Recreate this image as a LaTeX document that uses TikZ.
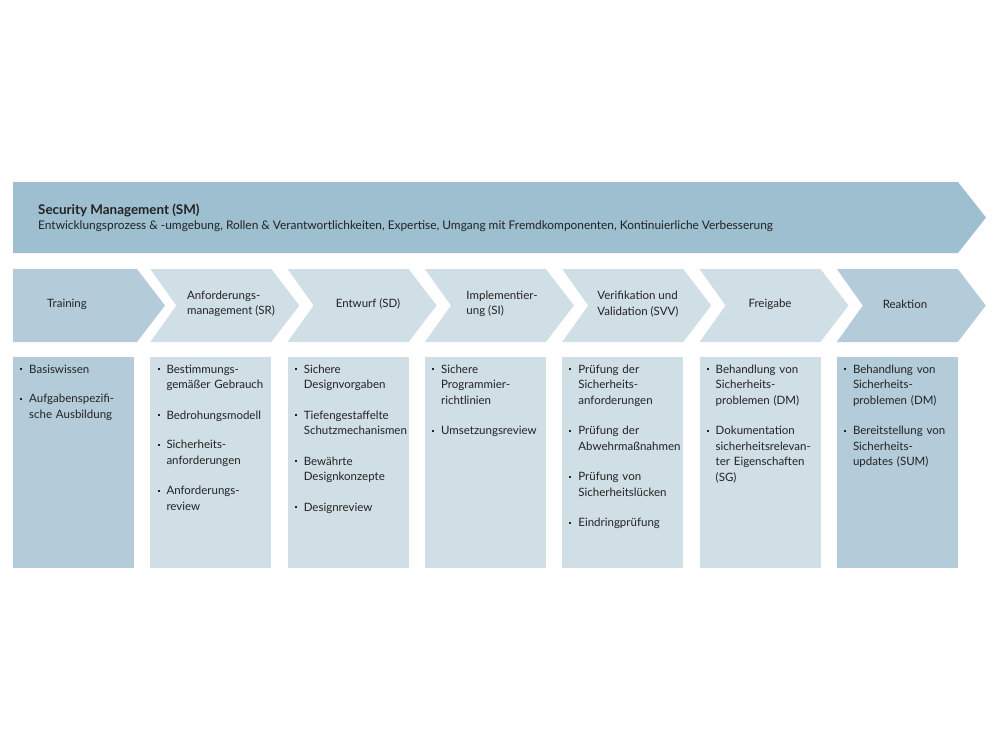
\documentclass[tikz,border=0pt]{standalone}
\usepackage{fontspec}
\setmainfont{Lato}
\definecolor{banner}{HTML}{9DBFD0}
\definecolor{darkblue}{HTML}{B4CCD9}
\definecolor{lightblue}{HTML}{D0DEE6}
\definecolor{ink}{HTML}{222222}
\newcommand{\bul}[1]{\makebox[9pt][l]{\raisebox{2.6pt}{\rule{2pt}{2pt}}}\parbox[t]{110pt}{\raggedright\strut #1\strut}}
\newcommand{\itemgap}{\par\vspace{14pt}}
\tikzset{
  bodytext/.style={font=\fontsize{11.5}{15.5}\selectfont, text=ink, inner sep=0pt},
  coltext/.style={bodytext, anchor=north west, text width=120pt, align=left},
  chevtext/.style={bodytext, anchor=center, align=left},
}
\begin{document}
\begin{tikzpicture}[x=1pt,y=-1pt]
\useasboundingbox (0,0) rectangle (1000,750);
% banner
\fill[banner] (13,182) -- (958,182) -- (986,217.5) -- (958,253) -- (13,253) -- cycle;
\node[text=ink, inner sep=0pt, anchor=west, align=left, font=\fontsize{11.9}{15.5}\selectfont] (sm) at (38,218)
  {{\fontsize{13.4}{15.5}\selectfont\textbf{Security Management (SM)}}\\Entwicklungsprozess \& -umgebung, Rollen \& Verantwortlichkeiten, Expertise, Umgang mit Fremdkomponenten, Kontinuierliche Verbesserung};
% chevrons
\fill[darkblue] (13,269) -- (137,269) -- (165,305.5) -- (137,342) -- (13,342) -- cycle;
\foreach \i in {1,...,6}{
  \pgfmathsetmacro{\L}{13+137.3*\i}
  \ifnum\i=6 \def\cc{darkblue}\else\def\cc{lightblue}\fi
  \fill[\cc] (\L,269) -- (\L+121,269) -- (\L+149,305.5) -- (\L+121,342) -- (\L,342) -- (\L+26,305.5) -- cycle;
}
% columns
\foreach \i in {0,...,6}{
  \pgfmathsetmacro{\L}{13+137.3*\i}
  \ifnum\i=0 \def\cc{darkblue}\else\ifnum\i=6 \def\cc{darkblue}\else\def\cc{lightblue}\fi\fi
  \fill[\cc] (\L,357) rectangle (\L+121,568);
}
% chevron labels
\node[chevtext] (c0) at (67,304) {Training};
\node[chevtext] (c1) at (231,304) {Anforderungs-\\management (SR)};
\node[chevtext] (c2) at (368,304) {Entwurf (SD)};
\node[chevtext] (c3) at (502,304) {Implementier-\\ung (SI)};
\node[chevtext] (c4) at (638,304) {Verifikation und\\Validation (SVV)};
\node[chevtext] (c5) at (770,304) {Freigabe};
\node[chevtext] (c6) at (905,304) {Reaktion};
% column texts
\node[coltext] (t0) at (20,362) {\bul{Basiswissen}\itemgap\bul{Aufgabenspezifi-\\sche Ausbildung}};
\node[coltext] (t1) at (157.3,362) {\bul{Bestimmungs-\\gemäßer Gebrauch}\itemgap\bul{Bedrohungsmodell}\itemgap\bul{Sicherheits-\\anforderungen}\itemgap\bul{Anforderungs-\\review}};
\node[coltext] (t2) at (294.6,362) {\bul{Sichere\\Designvorgaben}\itemgap\bul{Tiefengestaffelte\\Schutzmechanismen}\itemgap\bul{Bewährte\\Designkonzepte}\itemgap\bul{Designreview}};
\node[coltext] (t3) at (431.9,362) {\bul{Sichere\\Programmier-\\richtlinien}\itemgap\bul{Umsetzungsreview}};
\node[coltext] (t4) at (569.2,362) {\bul{Prüfung der\\Sicherheits-\\anforderungen}\itemgap\bul{Prüfung der\\Abwehrmaßnahmen}\itemgap\bul{Prüfung von\\Sicherheitslücken}\itemgap\bul{Eindringprüfung}};
\node[coltext] (t5) at (706.5,362) {\bul{Behandlung von\\Sicherheits-\\problemen (DM)}\itemgap\bul{Dokumentation\\sicherheitsrelevan-\\ter Eigenschaften\\(SG)}};
\node[coltext] (t6) at (843.8,362) {\bul{Behandlung von\\Sicherheits-\\problemen (DM)}\itemgap\bul{Bereitstellung von\\Sicherheits-\\updates (SUM)}};
\end{tikzpicture}
\end{document}
